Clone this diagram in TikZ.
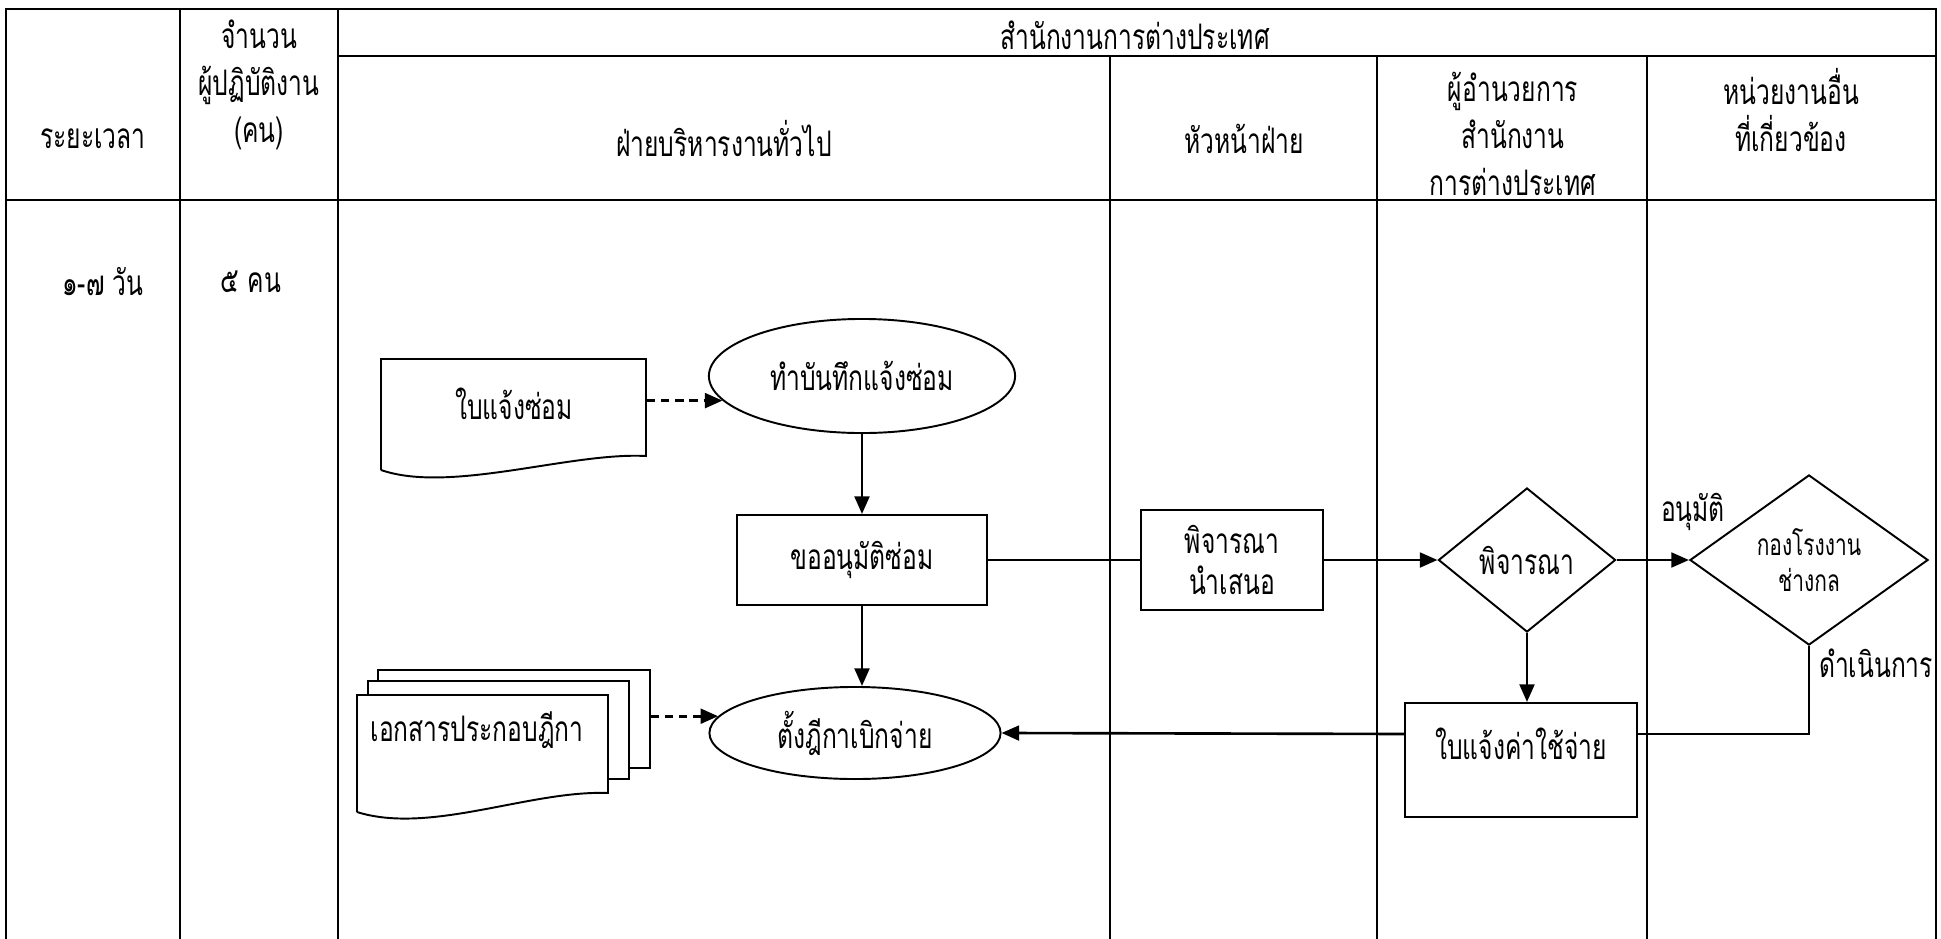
\documentclass[tikz,border=0pt]{standalone}
\usepackage{fontspec}
\newfontfamily\thaifont[Script=Thai,FakeStretch=0.7]{Loma}
\usetikzlibrary{positioning}
\usetikzlibrary{arrows.meta}
\usetikzlibrary{shapes.geometric}

\tikzset{
  lane/.style={line width=0.8pt},
  thai/.style={font=\thaifont\fontsize{10}{13.4}\selectfont, align=center},
  procbox/.style={draw, thai, line width=0.55pt, inner sep=0pt},
  ovalbox/.style={procbox, ellipse},
  decide/.style={procbox, diamond},
  docline/.style={line width=0.55pt},
  docpage/.style={draw, fill=white, line width=0.55pt, inner sep=0pt},
  flowline/.style={line width=0.75pt},
  flowarrow/.style={flowline, -{Triangle[length=5pt,width=4.2pt]}},
  docarrow/.style={flowarrow, line width=0.85pt, dash pattern=on 2.3pt off 1.7pt},
}

\begin{document}
\begin{tikzpicture}[x=0.01cm, y=-0.01cm]
      \useasboundingbox (0,0) rectangle (1941,939);

      % table of lanes
      \draw[lane] (6,939) -- (6,9) -- (1936,9) -- (1936,939);
      \draw[lane] (180,9) -- (180,939);
      \draw[lane] (338,9) -- (338,939);
      \draw[lane] (338,56) -- (1936,56);
      \draw[lane] (6,200) -- (1936,200);
      \draw[lane] (1110,56) -- (1110,939);
      \draw[lane] (1377,56) -- (1377,939);
      \draw[lane] (1647,56) -- (1647,939);

      % headers
      \node[thai] (h1) at (93,139) {ระยะเวลา};
      \node[thai] (h2) at (259,85) {จำนวน\\ผู้ปฏิบัติงาน\\(คน)};
      \node[thai] (h3) at (1135,35) {สำนักงานการต่างประเทศ};
      \node[thai] (h4) at (724,139) {ฝ่ายบริหารงานทั่วไป};
      \node[thai] (h5) at (1244,139) {หัวหน้าฝ่าย};
      \node[thai] (h6) at (1513,134) {ผู้อำนวยการ\\สำนักงาน\\การต่างประเทศ};
      \node[thai] (h7) at (1791,110) {หน่วยงานอื่น\\ที่เกี่ยวข้อง};
      \node[thai] (days) at (103,282) {๑-๗ วัน};
      \node[thai] (staff) at (251,282) {๕ คน};

      % repair form
      \draw[docline] (381,470) -- (381,359) -- (646,359) -- (646,456)
            .. controls (570,452) and (450,494) .. (381,470);
      \node[thai, minimum width=26.5mm, inner sep=0pt] (form) at (514,404) {ใบแจ้งซ่อม};

      % supporting documents
      \node[docpage, minimum width=27.2mm, minimum height=9.8mm] (attach3) at (514,719) {};
      \node[docpage, minimum width=26.1mm, minimum height=9.8mm] (attach2) at (498.5,730) {};
      \draw[docline, fill=white] (357,812) -- (357,695) -- (608,695) -- (608,793)
            .. controls (530,790) and (430,835) .. (357,812);
      \node[thai] (attach) at (477,730) {เอกสารประกอบฎีกา};

      % steps
      \node[ovalbox, minimum width=30.6mm, minimum height=11.4mm] (memo) at (862,376) {ทำบันทึกแจ้งซ่อม};
      \node[procbox, minimum width=25mm, minimum height=9mm] (ask) at (862,560) {ขออนุมัติซ่อม};
      \node[ovalbox, minimum width=29.1mm, minimum height=9.2mm] (claim) at (855,733) {ตั้งฎีกาเบิกจ่าย};
      \node[procbox, minimum width=18.1mm, minimum height=10mm] (review) at (1232,560) {พิจารณา\\[-1.5pt]นำเสนอ};
      \node[decide, minimum width=17.7mm, minimum height=14.4mm] (check) at (1527,560) {พิจารณา};
      \node[decide, minimum width=23.8mm, minimum height=17mm, font=\thaifont\fontsize{8.5}{10.3}\selectfont] (works) at (1809,560) {กองโรงงาน\\ช่างกล};
      \node[procbox, minimum width=23.2mm, minimum height=11.4mm] (cost) at (1521,760) {ใบแจ้งค่าใช้จ่าย\\[-4pt]\mbox{}};

      \node[thai] (approved) at (1693,512) {อนุมัติ};
      \node[thai] (done) at (1876,663) {ดำเนินการ};

      % connectors
      \draw[docarrow] (form.east |- memo.190) -- (memo.190);
      \draw[docarrow] (attach3.east |- claim.173) -- (claim.173);
      \draw[flowarrow] (memo.south) -- (ask.north);
      \draw[flowarrow] (ask.south) -- (ask.south |- claim.north);
      \draw[flowline] (ask.east) -- (review.west);
      \draw[flowarrow] (review.east) -- (check.west);
      \draw[flowarrow] (check.east) -- (works.west);
      \draw[flowarrow] (check.south) -- (check.south |- cost.north);
      \draw[flowline] (works.south) |- ([yshift=2.6mm]cost.east);
      \draw[flowarrow] ([yshift=2.6mm]cost.west) -- (claim.east);

\end{tikzpicture}
\end{document}
